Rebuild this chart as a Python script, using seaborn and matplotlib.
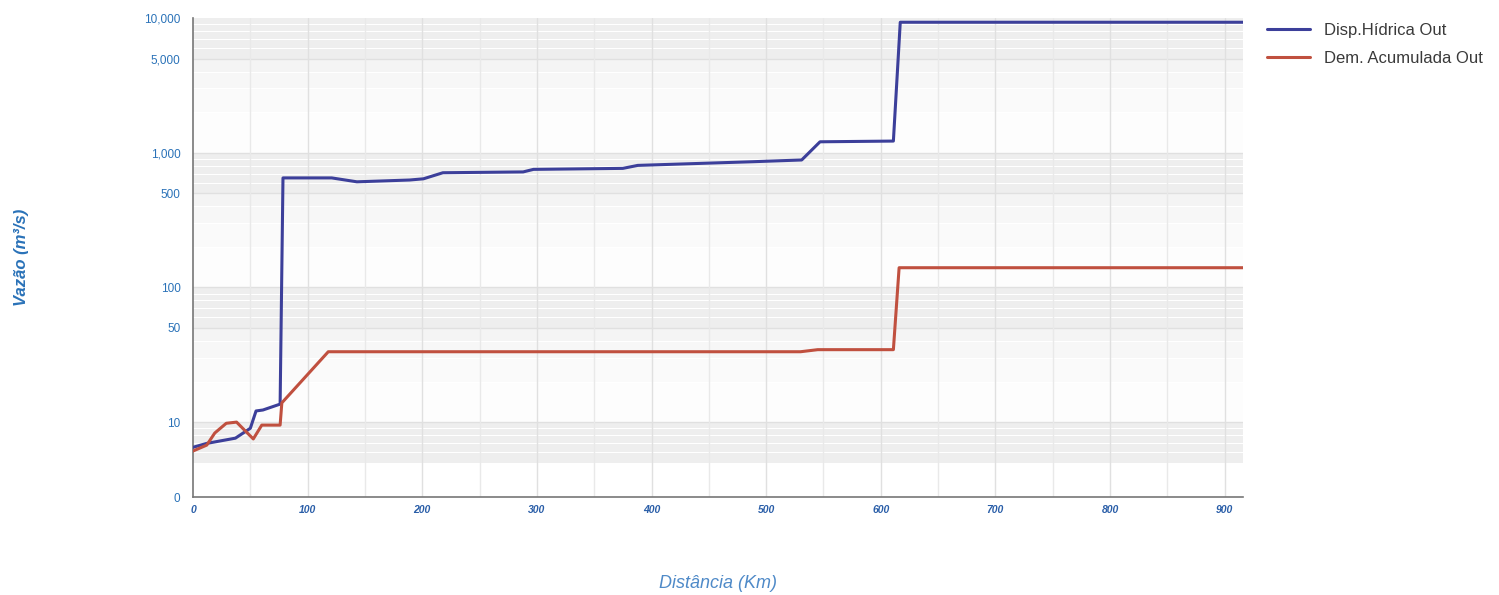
import numpy as np
import pandas as pd
import seaborn as sns
import matplotlib.pyplot as plt
from matplotlib.ticker import FixedLocator, FixedFormatter, MultipleLocator

# Disp. hidrica (blue) - distance in km, flow in m3/s
disp_km = [0, 12, 37, 50, 55, 61, 76, 78.5, 121, 143, 189, 201, 218, 288, 297,
           375, 388, 488, 531, 547, 611, 617, 916]
disp_q = [6.5, 6.95, 7.6, 9.0, 12.1, 12.3, 13.6, 650, 650, 608, 627, 640, 710,
          720, 752, 765, 805, 857, 883, 1205, 1220, 9300, 9300]

# Dem. acumulada (red)
dem_km = [0, 12, 19, 29, 38, 52.6, 60, 76, 77.5, 118, 530, 545, 611, 616, 916]
dem_q = [6.1, 6.75, 8.3, 9.8, 10.0, 7.5, 9.5, 9.5, 13.9, 33.3, 33.3, 34.5, 34.5,
         140, 140]

series_names = ["Disp.Hídrica Out", "Dem. Acumulada Out"]
y_ticks = [2.78, 10, 50, 100, 500, 1000, 5000, 10000]
y_labels = ["0", "10", "50", "100", "500", "1,000", "5,000", "10,000"]

df = pd.concat([
    pd.DataFrame({"km": disp_km, "q": disp_q, "serie": series_names[0]}),
    pd.DataFrame({"km": dem_km, "q": dem_q, "serie": series_names[1]}),
], ignore_index=True)

sns.set_style("white")
plt.rcParams["font.family"] = ["Liberation Sans", "DejaVu Sans"]

fig = plt.figure(figsize=(14.99, 5.95), dpi=100)
ax = fig.add_axes([193 / 1499, 1 - 497 / 595, 1050 / 1499, 479 / 595])

ax.set_yscale("log")
ax.set_xlim(0, 916)
ax.set_ylim(2.78, 10000)

# background bands like the original widget
for d in [10, 100, 1000, 10000]:
    ax.axhspan(d / 2, d, color="#eeeeee", lw=0, zorder=0)
    if d > 10:
        shades = ["#fdfdfd", "#fafafa", "#f7f7f7", "#f4f4f4"]
        for k, c in zip(range(1, 5), shades):
            ax.axhspan(d / 10 * k, d / 10 * (k + 1), color=c, lw=0, zorder=0)
for d in [1, 10, 100, 1000]:
    for k in [2, 3, 4, 6, 7, 8, 9]:
        ax.axhline(d * k, color="white", lw=0.8, zorder=0.5)
for v in [10, 50, 100, 500, 1000, 5000]:
    ax.axhline(v, color="#e0e0e0", lw=1, zorder=0.6)
for x in range(50, 916, 50):
    ax.axvline(x, color="#e9e9e9" if x % 100 else "#e0e0e0", lw=1, zorder=0.7)

sns.lineplot(data=df, x="km", y="q", hue="serie", estimator=None, sort=False,
             palette=["#3c3f9a", "#c0503f"], linewidth=2.2, ax=ax, zorder=3)

handles, labels = ax.get_legend_handles_labels()
ax.get_legend().remove()
fig.legend(handles, labels, loc="upper left", bbox_to_anchor=(1252 / 1499, 1 - 8 / 595),
           frameon=False, fontsize=12, handlelength=2.6, labelspacing=0.75,
           labelcolor="#3a3a3a")

ax.yaxis.set_major_locator(FixedLocator(y_ticks))
ax.yaxis.set_major_formatter(FixedFormatter(y_labels))
ax.yaxis.set_minor_locator(FixedLocator([]))
ax.xaxis.set_major_locator(MultipleLocator(100))
ax.tick_params(axis="y", length=0, labelsize=8.5, labelcolor="#2a72b8", pad=9)
ax.tick_params(axis="x", length=0, labelsize=7.5, labelcolor="#2a5ea8", pad=6)
for t in ax.get_xticklabels():
    t.set_fontstyle("italic")
    t.set_fontweight("bold")

ax.set_xlabel("")
ax.set_ylabel("")
for s in ["top", "right"]:
    ax.spines[s].set_visible(False)
for s in ["left", "bottom"]:
    ax.spines[s].set_color("#777777")
    ax.spines[s].set_linewidth(1.2)

fig.text(22 / 1499, 1 - 257 / 595, "Vazão (m³/s)", rotation=90, ha="center", va="center",
         fontsize=12, fontstyle="italic", fontweight="bold", color="#2a72b8")
fig.text(718 / 1499, 1 - 583 / 595, "Distância (Km)", ha="center", va="center",
         fontsize=13, fontstyle="italic", color="#4f8ac8")

fig.savefig("out.png", dpi=100)
